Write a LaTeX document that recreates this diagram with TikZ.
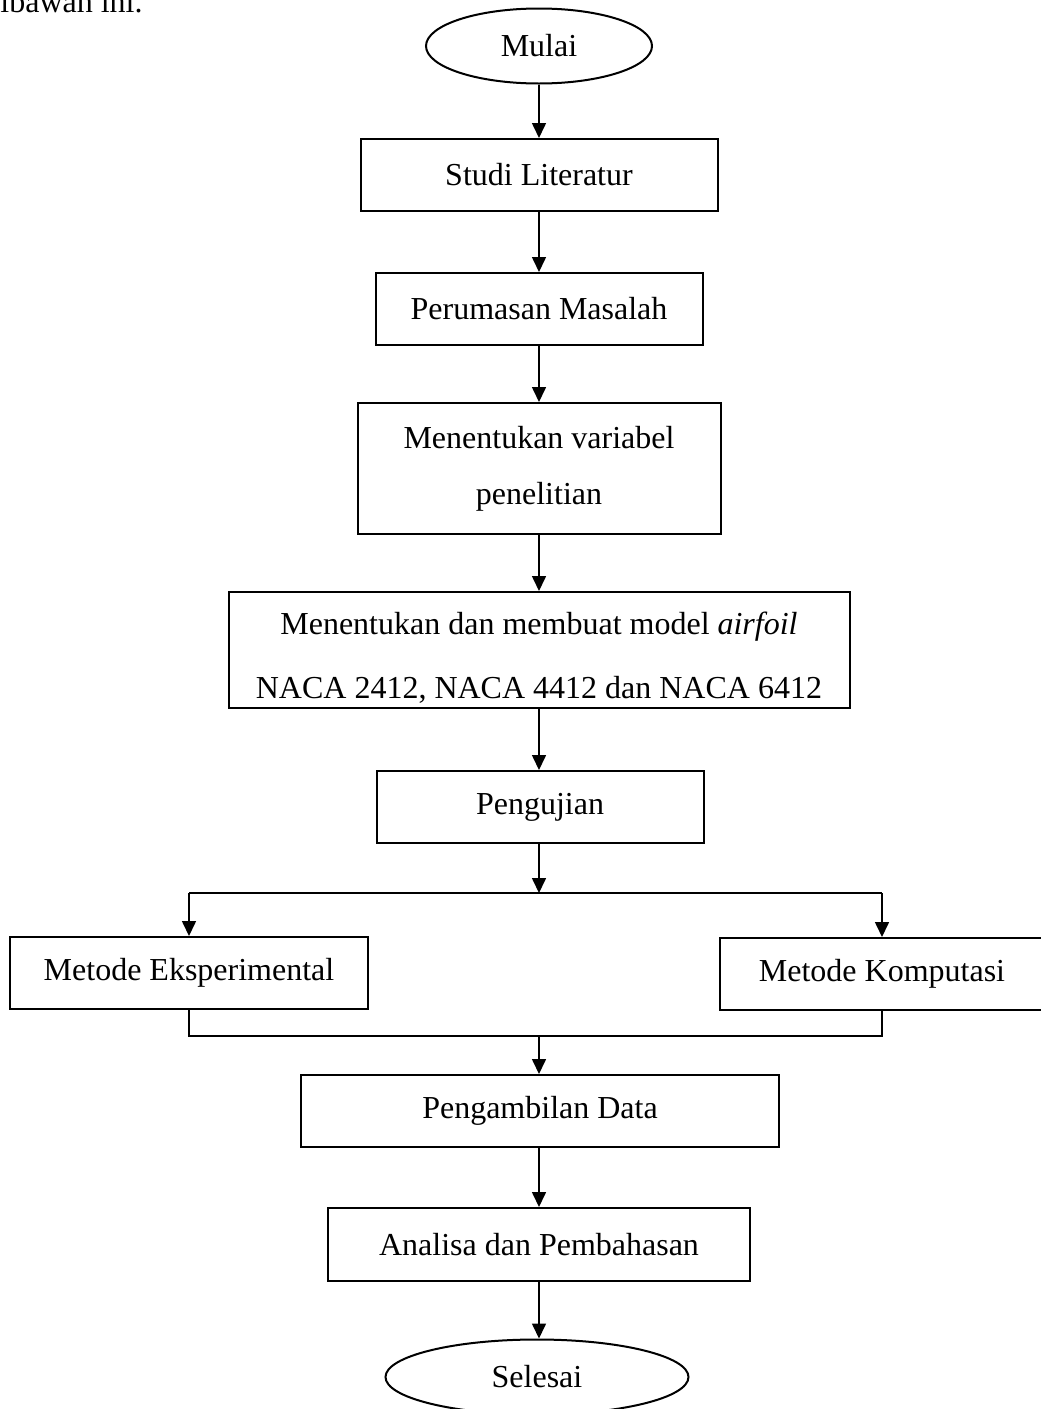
\documentclass[tikz,border=0pt]{standalone}
\usepackage{fontspec}
\setmainfont{Liberation Serif}
\usepackage{tikz}
\usetikzlibrary{shapes.geometric,arrows.meta}

\tikzset{
    box/.style={draw,line width=1pt,rectangle,inner sep=0pt,align=center},
    term/.style={draw,line width=1pt,ellipse,inner sep=0pt,minimum height=37.5pt},
    flow/.style={line width=0.8pt,-{Triangle[length=7.5pt,width=7pt]}},
    link/.style={line width=0.8pt}
}

\begin{document}
\begin{tikzpicture}[x=0.5pt,y=-0.5pt,font=\fontsize{16}{19}\selectfont]
    \useasboundingbox (0,0) rectangle (1040,1409);

    % Text of the page above the chart
    \node[anchor=base east,inner sep=0pt] (lead) at (143,12) {dibawah ini.};

    % Start and end
    \node[term,minimum width=113pt] (mulai) at (539,46) {Mulai};
    \node[term,minimum width=151.5pt] (selesai) at (537,1377) {Selesai};

    % Main column of steps
    \node[box,minimum width=178.5pt,minimum height=36pt] (studi) at (539,175) {Studi Literatur};
    \node[box,minimum width=163.5pt,minimum height=36pt] (rumusan) at (539,309) {Perumasan Masalah};
    \node[box,minimum width=181.5pt,minimum height=65.5pt,font=\fontsize{16}{28}\selectfont] (variabel) at (539,468.5)
        {Menentukan variabel\\penelitian};
    \node[box,minimum width=310.5pt,minimum height=58pt,font=\fontsize{16}{32}\selectfont] (airfoil) at (539,650)
        {\rule{0pt}{19pt}Menentukan dan membuat model \textit{airfoil}\\NACA 2412, NACA 4412 dan NACA 6412};
    \node[box,minimum width=163.5pt,minimum height=36pt] (uji) at (540,807) {Pengujian};

    % The two methods
    \node[box,minimum width=179pt,minimum height=36pt] (eksp) at (189,973) {Metode Eksperimental};
    \node[box,minimum width=162pt,minimum height=36pt] (komp) at (882,974) {Metode Komputasi};

    \node[box,minimum width=239pt,minimum height=36pt] (ambil) at (540,1111) {Pengambilan Data};
    \node[box,minimum width=211pt,minimum height=36.5pt] (analisa) at (539,1244.5) {Analisa dan Pembahasan};

    % Branch and merge points
    \coordinate (split) at (539,893);
    \coordinate (join) at (539,1036);

    % Arrows
    \draw[flow] (mulai.south -| studi) -- (studi);
    \draw[flow] (studi) -- (rumusan);
    \draw[flow] (rumusan) -- (variabel);
    \draw[flow] (variabel) -- (airfoil);
    \draw[flow] (airfoil.south) -- (airfoil.south |- uji.north);
    \draw[flow] (uji.south -| split) -- (split);
    \draw[link] (eksp.north |- split) -- (komp.north |- split);
    \draw[flow] (eksp.north |- split) -- (eksp.north);
    \draw[flow] (komp.north |- split) -- (komp.north);
    \draw[link] (eksp.south) -- (eksp.south |- join) -- (komp.south |- join) -- (komp.south);
    \draw[flow] (join) -- (join |- ambil.north);
    \draw[flow] (join |- ambil.south) -- (join |- analisa.north);
    \draw[flow] (analisa.south) -- (analisa.south |- selesai.north);
\end{tikzpicture}
\end{document}
